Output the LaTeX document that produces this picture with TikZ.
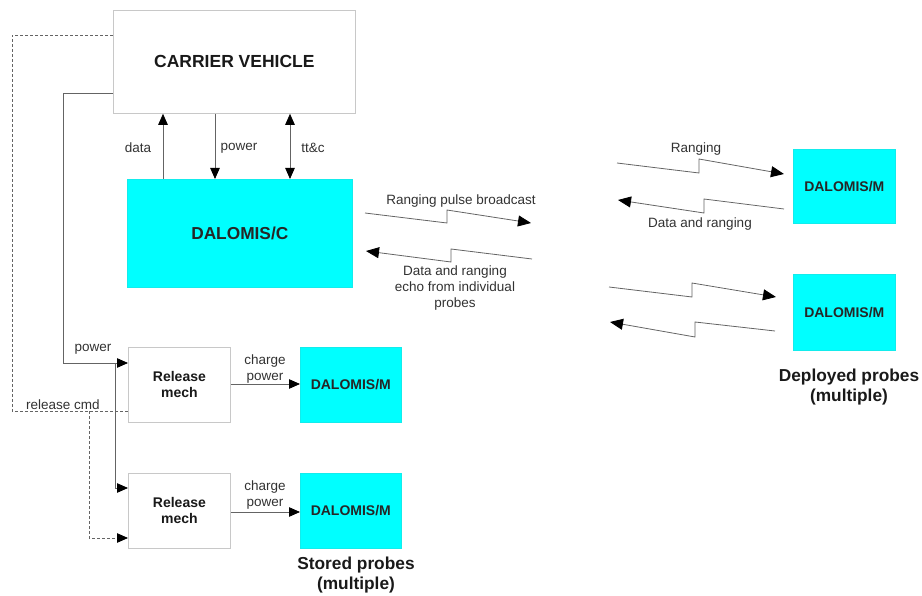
\documentclass[tikz,border=0pt]{standalone}
\usepackage{fontspec}
\setmainfont{Liberation Sans}
\usetikzlibrary{arrows.meta}
\definecolor{probecyan}{RGB}{0,255,255}
\definecolor{edgegray}{RGB}{200,200,200}
\definecolor{linegray}{RGB}{100,100,100}
\definecolor{txtgray}{RGB}{50,50,50}
\begin{document}
\begin{tikzpicture}[x=1pt,y=-1pt,
  lbl/.style={text=txtgray,font=\fontsize{13.5}{16}\selectfont,inner sep=0pt,align=center},
  ttl/.style={text=black!90,font=\bfseries\fontsize{17.3}{20}\selectfont,inner sep=0pt,align=center},
  whitebox/.style={draw=edgegray,fill=white,line width=0.8pt,inner sep=0pt,align=center,
    text=black!90,font=\bfseries\fontsize{14}{16}\selectfont},
  cyanbox/.style={draw=probecyan!85!gray,fill=probecyan,line width=0.6pt,inner sep=0pt,align=center,
    text=black!85,font=\bfseries\fontsize{14}{16}\selectfont},
  wire/.style={draw=linegray,line width=0.8pt},
  cmdwire/.style={draw=linegray,line width=0.8pt,dash pattern=on 3pt off 2pt},
  tip/.style={-{Triangle[length=11pt,width=9.5pt,color=black]}},
  bitip/.style={{Triangle[length=11pt,width=9.5pt,color=black]}-{Triangle[length=11pt,width=9.5pt,color=black]}},
  radio/.style={draw=linegray,line width=0.8pt,-{Triangle[length=13pt,width=11pt,color=black]}}]
\useasboundingbox (0,0) rectangle (922,596);

% blocks
\node[whitebox,minimum width=242,minimum height=103,anchor=north west,
      font=\bfseries\fontsize{17.5}{20}\selectfont] (cv) at (113,10) {CARRIER VEHICLE};
\node[cyanbox,minimum width=225,minimum height=108,anchor=north west,
      font=\bfseries\fontsize{17.3}{20}\selectfont] (dc) at (127,179) {DALOMIS/C};
\node[whitebox,minimum width=102,minimum height=75,anchor=north west] (rm1) at (128,347) {Release\\mech};
\node[whitebox,minimum width=102,minimum height=75,anchor=north west] (rm2) at (128,473) {Release\\mech};
\node[cyanbox,minimum width=101,minimum height=75,anchor=north west] (sm1) at (300,347) {DALOMIS/M};
\node[cyanbox,minimum width=101,minimum height=75,anchor=north west] (sm2) at (300,473) {DALOMIS/M};
\node[cyanbox,minimum width=102,minimum height=74,anchor=north west] (dm1) at (793,149) {DALOMIS/M};
\node[cyanbox,minimum width=102,minimum height=76,anchor=north west] (dm2) at (793,274) {DALOMIS/M};

% carrier <-> DALOMIS/C links
\draw[wire,tip] (163,0 |- dc.north) -- (163,0 |- cv.south);
\draw[wire,tip] (215,0 |- cv.south) -- (215,0 |- dc.north);
\draw[wire,bitip] (290,0 |- cv.south) -- (290,0 |- dc.north);
\node[lbl] (ldata) at (138,148) {data};
\node[lbl] (lpow) at (239,148) {power};
\node[lbl] (lttc) at (313,148) {tt\&c};

% power feed to release mechanisms
\coordinate (pj) at (115,363);
\draw[wire,tip] (cv.west |- 0,93) -- (63,93) -- (63,363) -- (rm1.west |- pj);
\draw[wire,tip] (pj) -- (115,488) -- (rm2.west |- 0,488);
\node[lbl] (lpw) at (93,349) {power};

% release command
\coordinate (cj) at (89,411);
\draw[cmdwire] (cv.west |- 0,35) -- (12,35) -- (12,411) -- (rm1.west |- cj);
\draw[cmdwire,tip] (cj) -- (89,538) -- (rm2.west |- 0,538);
\node[lbl] (lrc) at (63,405) {release cmd};

% charge power to stored probes
\draw[wire,tip] (rm1.east |- 0,384) -- (sm1.west |- 0,384);
\draw[wire,tip] (rm2.east |- 0,512) -- (sm2.west |- 0,512);
\node[lbl] (lcp1) at (265,369.5) {charge\\power};
\node[lbl] (lcp2) at (265,495) {charge\\power};

\node[ttl] (tstored) at (356,575) {Stored probes\\(multiple)};
\node[ttl] (tdeployed) at (849,387) {Deployed probes\\(multiple)};

% radio links, DALOMIS/C side
\coordinate (bca) at (365,213); \coordinate (bcb) at (531,223);
\draw[radio] (bca) -- (447,223) -- (447,210) -- (bcb);
\node[lbl] (lbc) at (461,201) {Ranging pulse broadcast};
\coordinate (eca) at (532,259); \coordinate (ecb) at (366,251);
\draw[radio] (eca) -- (451,249) -- (451,262) -- (ecb);
\node[lbl] (lec) at (455,288) {Data and ranging\\echo from individual\\probes};

% radio links, deployed probes
\coordinate (r1a) at (617,163); \coordinate (r1b) at (dm1.west |- 0,174);
\draw[radio] (r1a) -- (699,173) -- (699,159) -- ([xshift=-9pt]r1b);
\node[lbl] (lr1) at (696,149) {Ranging};
\coordinate (d1a) at (784,209); \coordinate (d1b) at (618,200);
\draw[radio] (d1a) -- (704,199) -- (704,213) -- (d1b);
\node[lbl] (ld1) at (700,224) {Data and ranging};
\coordinate (r2a) at (609,287); \coordinate (r2b) at (776,297);
\draw[radio] (r2a) -- (692,297) -- (692,283) -- (r2b);
\coordinate (d2a) at (775,331); \coordinate (d2b) at (610,322);
\draw[radio] (d2a) -- (695,322) -- (695,337) -- (d2b);
\end{tikzpicture}
\end{document}
